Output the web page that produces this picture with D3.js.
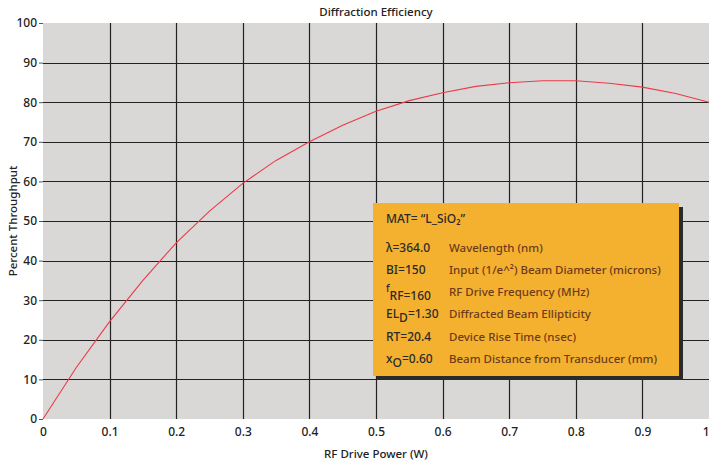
<!DOCTYPE html>
<html>
<head>
<meta charset="utf-8">
<script src="https://cdn.jsdelivr.net/npm/d3@7"></script>
<style>
  body { margin: 0; background: #fff; }
  text { font-family: "Noto Sans", "Open Sans", sans-serif; }
</style>
</head>
<body>
<div id="chart"></div>
<script>
// RF drive power (W) vs percent throughput
let power = [0, 0.05, 0.1, 0.15, 0.2, 0.25, 0.3, 0.35, 0.4, 0.45, 0.5,
  0.55, 0.6, 0.65, 0.7, 0.75, 0.8, 0.85, 0.9, 0.95, 1.0]
let throughput = [0, 13.0, 24.6, 35.0, 44.5, 52.5, 59.5, 65.3, 70.0, 74.2, 77.7,
  80.4, 82.4, 84.0, 84.9, 85.4, 85.4, 84.8, 83.8, 82.2, 80.0]

let xTicks = [0, 0.1, 0.2, 0.3, 0.4, 0.5, 0.6, 0.7, 0.8, 0.9, 1]
let yTicks = [0, 10, 20, 30, 40, 50, 60, 70, 80, 90, 100]

let legendHead = 'MAT= \u201CL_SiO\u2082\u201D'
let legendKeys = [
  ['\u03BB=364.0'],
  ['BI=150'],
  ['f', 'RF=160'],
  ['EL', 'D', '=1.30'],
  ['RT=20.4'],
  ['x', 'O', '=0.60']
]
let legendDesc = [
  'Wavelength (nm)',
  'Input (1/e^\u00B2) Beam Diameter (microns)',
  'RF Drive Frequency (MHz)',
  'Diffracted Beam Ellipticity',
  'Device Rise Time (nsec)',
  'Beam Distance from Transducer (mm)'
]

let margin = { top: 23, right: 1, bottom: 45, left: 43 }
let width = 710 - margin.left - margin.right
let height = 464 - margin.top - margin.bottom

let svg = d3.select('#chart')
  .append('svg')
  .attr('width', 710)
  .attr('height', 464)

let g = svg.append('g')
  .attr('transform', `translate(${margin.left}, ${margin.top})`)

let x = d3.scaleLinear().domain([0, 1]).range([0, width])
let y = d3.scaleLinear().domain([0, 100]).range([height, 0])

// plot background
g.append('rect')
  .attr('width', width)
  .attr('height', height)
  .attr('fill', '#d9d8d7')

// grid
g.append('g')
  .selectAll('line')
  .data(xTicks.slice(1, -1))
  .enter()
  .append('line')
  .attr('x1', d => Math.round(x(d)) + 0.5)
  .attr('x2', d => Math.round(x(d)) + 0.5)
  .attr('y1', 0)
  .attr('y2', height)
  .attr('stroke', '#222')
  .attr('stroke-width', 1.2)

g.append('g')
  .selectAll('line')
  .data(yTicks.slice(1, -1))
  .enter()
  .append('line')
  .attr('x1', 0)
  .attr('x2', width)
  .attr('y1', d => Math.round(y(d)) + 0.5)
  .attr('y2', d => Math.round(y(d)) + 0.5)
  .attr('stroke', '#222')
  .attr('stroke-width', 1.2)

// axes
let xAxis = g.append('g')
  .attr('transform', `translate(0, ${height})`)
  .call(d3.axisBottom(x).tickValues(xTicks).tickFormat(d3.format('')).tickSize(0).tickPadding(8))
xAxis.select('.domain').remove()
xAxis.selectAll('text')
  .attr('font-size', 12)
  .attr('font-weight', 500)
  .attr('fill', '#222')
// last label sits at the window edge; keep it inside
xAxis.selectAll('.tick:last-child text').attr('text-anchor', 'end').attr('dx', 0)

let yAxis = g.append('g')
  .call(d3.axisLeft(y).tickValues(yTicks).tickSize(4).tickPadding(2))
yAxis.select('.domain').remove()
yAxis.selectAll('line').attr('stroke', '#555')
yAxis.selectAll('text')
  .attr('font-size', 12)
  .attr('font-weight', 500)
  .attr('fill', '#222')

// the curve
let line = d3.line()
  .x((d, i) => x(power[i]))
  .y(d => y(d))

g.append('path')
  .datum(throughput)
  .attr('d', line)
  .attr('fill', 'none')
  .attr('stroke', '#ec3a48')
  .attr('stroke-width', 1.1)

// titles
svg.append('text')
  .attr('x', margin.left + width / 2)
  .attr('y', 16)
  .attr('text-anchor', 'middle')
  .attr('font-size', 11.5)
  .attr('font-weight', 500)
  .attr('fill', '#222')
  .text('Diffraction Efficiency')

svg.append('text')
  .attr('x', margin.left + width / 2)
  .attr('y', 458)
  .attr('text-anchor', 'middle')
  .attr('font-size', 11.5)
  .attr('font-weight', 500)
  .attr('fill', '#222')
  .text('RF Drive Power (W)')

svg.append('text')
  .attr('transform', `translate(17, ${margin.top + height / 2}) rotate(-90)`)
  .attr('text-anchor', 'middle')
  .attr('font-size', 11.5)
  .attr('font-weight', 500)
  .attr('fill', '#222')
  .text('Percent Throughput')

// parameter box
let box = svg.append('g').attr('transform', 'translate(373, 203)')
let boxW = 306
let boxH = 173

box.append('rect')
  .attr('x', 4)
  .attr('y', 4)
  .attr('width', boxW)
  .attr('height', boxH)
  .attr('fill', '#2b2b2b')

box.append('rect')
  .attr('width', boxW)
  .attr('height', boxH)
  .attr('fill', '#f4b130')

box.append('text')
  .attr('x', 13)
  .attr('y', 20)
  .attr('font-size', 12)
  .attr('font-weight', 500)
  .attr('fill', '#2a2a2a')
  .text(legendHead)

let rowY = [49, 71, 93, 115, 138, 160]

legendKeys.forEach((k, i) => {
  let t = box.append('text')
    .attr('x', 13)
    .attr('y', rowY[i])
    .attr('font-size', 12)
    .attr('font-weight', 500)
    .attr('fill', '#2a2a2a')
  if (k.length === 1) {
    t.text(k[0])
  } else if (k.length === 2) {
    t.append('tspan').attr('dy', -4).attr('font-size', 10).text(k[0])
    t.append('tspan').attr('dy', 8).text(k[1])
  } else {
    t.append('tspan').text(k[0])
    t.append('tspan').attr('dy', 4).text(k[1])
    t.append('tspan').attr('dy', -4).text(k[2])
  }
})

box.selectAll('.desc')
  .data(legendDesc)
  .enter()
  .append('text')
  .attr('class', 'desc')
  .attr('x', 76)
  .attr('y', (d, i) => rowY[i])
  .attr('font-size', 11.5)
  .attr('font-weight', 500)
  .attr('fill', '#6e3b1a')
  .text(d => d)
</script>
</body>
</html>
